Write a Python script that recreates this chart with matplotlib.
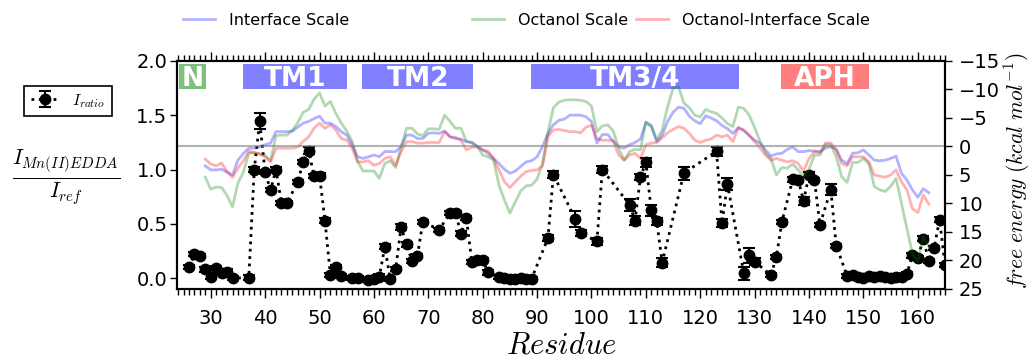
import matplotlib
matplotlib.use('Agg')
import matplotlib.pyplot as plt
from matplotlib.ticker import MultipleLocator, FormatStrFormatter

plt.rcParams['mathtext.fontset'] = 'cm'

# ---------------- data ----------------
residues_ratio = [26, 27, 28, 29, 30, 31, 32, 33, 34,
                  37, 38, 39, 40, 41, 42, 43, 44,
                  46, 47, 48, 49, 50, 51, 52, 53, 54,
                  56, 57,
                  59, 60, 61, 62, 63, 64, 65, 66, 67, 68, 69,
                  72,
                  74, 75, 76, 77, 78, 79, 80, 81,
                  83, 84, 85, 86, 87, 88, 89,
                  92, 93,
                  97, 98,
                  101, 102,
                  107, 108, 109, 110, 111, 112, 113,
                  117,
                  123, 124, 125,
                  128, 129, 130,
                  133, 134, 135,
                  137, 138, 139, 140, 141, 142,
                  144, 145,
                  147, 148, 149, 150, 151, 152, 153, 154, 155, 156, 157, 158,
                  159, 160, 161, 162, 163, 164, 165]
ratio = [0.10, 0.22, 0.205, 0.08, 0.015, 0.095, 0.045, 0.06, 0.0,
         0.005, 1.0, 1.445, 0.975, 0.81, 1.0, 0.69, 0.69,
         0.887, 1.072, 1.175, 0.94, 0.945, 0.53, 0.03, 0.105, 0.02,
         0.0, 0.0,
         -0.02, -0.01, 0.015, 0.29, -0.01, 0.085, 0.47, 0.31, 0.16, 0.205, 0.52,
         0.445,
         0.60, 0.60, 0.41, 0.553, 0.15, 0.17, 0.165, 0.052,
         0.01, 0.0, -0.005, -0.005, 0.0, -0.005, -0.005,
         0.37, 0.953,
         0.547, 0.415,
         0.338, 1.0,
         0.676, 0.53, 0.93, 1.067, 0.624, 0.522, 0.144,
         0.968,
         1.168, 0.507, 0.867,
         0.046, 0.21, 0.153,
         0.028, 0.197, 0.517,
         0.91, 0.908, 0.71, 0.953, 0.904, 0.491,
         0.815, 0.299,
         0.02, 0.03, 0.01, 0.0, 0.02, 0.015, 0.02, 0.015, 0.005, 0.01, 0.01, 0.04,
         0.21, 0.185, 0.365, 0.16, 0.28, 0.54, 0.12]
ratio_err = [0.02, 0.02, 0.02, 0.02, 0.02, 0.02, 0.02, 0.02, 0.02,
             0.02, 0.02, 0.075, 0.02, 0.02, 0.02, 0.02, 0.02,
             0.02, 0.02, 0.03, 0.02, 0.02, 0.02, 0.02, 0.02, 0.02,
             0.02, 0.02,
             0.02, 0.02, 0.02, 0.025, 0.02, 0.02, 0.025, 0.02, 0.02, 0.02, 0.02,
             0.02,
             0.02, 0.02, 0.02, 0.02, 0.02, 0.02, 0.02, 0.02,
             0.02, 0.02, 0.02, 0.02, 0.02, 0.02, 0.02,
             0.03, 0.03,
             0.075, 0.03,
             0.03, 0.03,
             0.055, 0.045, 0.03, 0.04, 0.05, 0.03, 0.04,
             0.06,
             0.04, 0.035, 0.055,
             0.06, 0.07, 0.03,
             0.02, 0.02, 0.02,
             0.02, 0.02, 0.04, 0.02, 0.02, 0.02,
             0.05, 0.02,
             0.02, 0.02, 0.02, 0.02, 0.02, 0.02, 0.02, 0.02, 0.02, 0.02, 0.02, 0.02,
             0.02, 0.02, 0.02, 0.02, 0.02, 0.02, 0.02]

residues_scale = list(range(29, 163))
interface_scale = [3.4, 4.1, 4.1, 4.0, 4.5, 5.0, 2.4, 1.2, 0.3, 0.3,
                   0.0, -0.3, -0.6, -2.6, -2.6, -2.6, -2.7, -3.4, -4.1, -4.4,
                   -4.9, -5.3, -4.1, -4.1, -3.5, -2.6, -2.0, -0.3, 1.8, 2.1,
                   1.8, 1.5, 1.8, 0.9, 0.9, 0.9, 0.0, -2.0, -2.0, -1.4,
                   -1.4, -2.3, -2.4, -2.3, -2.7, -1.7, -1.4, -1.3, -0.85, -0.7,
                   0.0, 0.6, 1.2, 2.1, 3.0, 4.0, 4.7, 4.3, 3.5, 2.7,
                   2.5, 1.8, 0.0, -2.3, -3.8, -4.6, -4.8, -5.5, -5.5, -5.5,
                   -5.2, -4.4, -0.6, -2.1, -2.1, -0.9, 0.0, 0.3, -0.3, -0.7,
                   -1.3, -4.2, -3.5, -0.85, -2.0, -4.4, -6.0, -6.9, -6.7, -5.3,
                   -4.5, -4.0, -5.4, -5.0, -4.5, -3.7, -3.1, -2.3, -3.3, -2.8,
                   -1.9, -1.1, -0.6, 0.6, 1.7, 1.3, 1.2, 0.5, 0.1, 0.9,
                   0.9, 0.7, 0.8, 0.9, 0.3, 0.0, 0.5, 2.4, 3.0, 1.2,
                   1.1, 0.6, 1.5, 2.4, 2.5, 2.4, 2.1, 1.7, 4.7, 5.9,
                   7.6, 8.9, 7.4, 8.1]
octanol_scale = [5.4, 7.5, 7.1, 7.2, 8.6, 10.6, 6.4, 4.5, 1.2, 1.0,
                 1.4, 1.6, 2.5, -1.9, -2.0, -2.0, -2.8, -4.2, -6.0, -6.5,
                 -8.3, -9.4, -7.1, -7.9, -5.8, -4.1, -2.7, -0.9, 2.6, 4.3,
                 4.3, 4.3, 5.6, 3.0, 2.5, 3.7, 0.1, -3.2, -3.2, -2.2,
                 -1.9, -3.1, -3.1, -3.0, -5.5, -4.4, -3.2, -3.2, -0.9, -0.7,
                 0.0, 1.5, 1.8, 2.4, 6.8, 9.4, 11.7, 9.7, 7.8, 6.9,
                 6.8, 5.7, 3.0, -2.5, -6.8, -7.8, -8.1, -8.2, -8.2, -8.1,
                 -7.9, -7.1, -2.6, -3.6, -3.8, -2.7, 0.3, 2.4, 0.9, 0.5,
                 0.6, -4.3, -3.7, -1.2, -2.9, -7.0, -10.2, -10.5, -7.6, -6.8,
                 -5.5, -5.2, -6.5, -6.1, -5.8, -5.0, -4.0, -3.5, -6.9, -6.7,
                 -5.5, -3.3, -0.9, 1.2, 2.1, 5.0, 3.7, 3.8, 3.1, 4.1,
                 5.2, 4.0, 1.5, 1.5, -0.3, -0.3, 1.8, 5.3, 6.3, 2.8,
                 2.8, 2.1, 3.0, 7.0, 7.6, 7.9, 7.0, 5.6, 10.0, 14.4,
                 18.8, 20.2, 15.8, 17.5]
octanol_interface_scale = [2.2, 3.1, 3.4, 2.9, 4.4, 5.4, 3.8, 2.5, 0.8, 1.2,
                           1.2, 1.8, 2.7, 0.3, 0.3, 0.3, 0.3, 0.1, -0.9, -1.7,
                           -3.2, -4.1, -3.2, -3.8, -2.9, -1.4, -1.1, 0.3, 2.7, 2.7,
                           2.5, 3.3, 3.0, 2.1, 1.8, 3.3, 0.9, -0.85, -0.85, -0.6,
                           -0.6, -0.7, -0.7, -0.7, -2.6, -1.7, -1.6, -1.1, 0.6, 0.15,
                           0.0, 0.6, 0.8, 2.1, 4.1, 6.2, 7.2, 6.2, 5.2, 4.4,
                           4.2, 4.1, 3.4, -1.7, -2.9, -3.0, -2.8, -2.6, -2.6, -2.4,
                           -3.4, -3.7, -1.4, -1.1, -1.1, -1.0, 1.5, 2.4, 1.5, 1.2,
                           2.1, -0.3, -0.6, -0.7, -1.5, -2.4, -3.0, -3.5, -3.2, -2.3,
                           -1.1, -0.7, -1.1, -1.3, -2.0, -1.7, -2.0, -0.85, -3.3, -2.9,
                           -2.0, -0.85, 0.3, 1.5, 2.4, 2.1, 2.4, 2.7, 2.5, 3.0,
                           4.3, 2.1, 0.9, 1.1, -0.6, -0.6, 0.6, 3.0, 3.4, 1.8,
                           1.8, 1.8, 2.7, 5.0, 5.2, 5.4, 5.0, 4.1, 6.2, 7.6,
                           10.9, 11.6, 8.5, 10.1]

region_names = ['N', 'TM1', 'TM2', 'TM3/4', 'APH']
region_start = [24.2, 35.9, 57.9, 88.9, 134.8]
region_end = [29.1, 55.1, 78.2, 127.1, 151.1]
region_colors = ['g', 'b', 'b', 'b', 'r']

x_ticks = [30, 40, 50, 60, 70, 80, 90, 100, 110, 120, 130, 140, 150, 160]
ratio_ticks = [0.0, 0.5, 1.0, 1.5, 2.0]
energy_ticks = [-15, -10, -5, 0, 5, 10, 15, 20, 25]

# ---------------- figure ----------------
fig = plt.figure(figsize=(10.31, 3.59), dpi=100)
ax = fig.add_axes([0.1717, 0.195, 0.7449, 0.6351])
ax2 = ax.twinx()

eb = ax.errorbar(residues_ratio, ratio, yerr=ratio_err, fmt='ko:', ms=7.5,
                 lw=2, capsize=4.5, elinewidth=1.5, capthick=1.5,
                 label='$I_{ratio}$')

scale_lines = []
for vals, col, lab in [(interface_scale, 'b', 'Interface Scale'),
                       (octanol_scale, 'g', 'Octanol Scale'),
                       (octanol_interface_scale, 'r', 'Octanol-Interface Scale')]:
    ln, = ax2.plot(residues_scale, vals, color=col, alpha=0.3, lw=2, label=lab)
    scale_lines.append(ln)
ax2.axhline(0, color='gray', alpha=0.6, lw=1.5)

for name, s, e, c in zip(region_names, region_start, region_end, region_colors):
    ax2.axvspan(s, e, ymin=0.876, ymax=0.987, color=c, alpha=0.5, lw=0)
    ax2.text((s + e) / 2, 0.89, name, transform=ax2.get_xaxis_transform(),
             ha='center', va='baseline', color='white', fontweight='bold',
             fontsize=19)

ax.set_xlim(23.8, 165)
ax.set_ylim(-0.1, 2.0)
ax2.set_ylim(25, -15)

ax.set_xticks(x_ticks)
ax.xaxis.set_minor_locator(MultipleLocator(1))
ax.xaxis.set_ticks_position('both')
ax.set_yticks(ratio_ticks)
ax.yaxis.set_major_formatter(FormatStrFormatter('%.1f'))
ax2.set_yticks(energy_ticks)

ax.tick_params(axis='x', which='major', direction='out', length=6.5, width=1,
               labelsize=14, pad=8)
ax.tick_params(axis='x', which='minor', direction='out', length=4, width=1)
ax.tick_params(axis='y', which='major', direction='out', length=5, width=1,
               labelsize=14, pad=2)
ax2.tick_params(axis='y', which='major', direction='out', length=5, width=1,
                labelsize=14, pad=5)

for a in (ax, ax2):
    for sp in a.spines.values():
        sp.set_linewidth(1.5)

ax.set_xlabel('$Residue$', fontsize=22, labelpad=2)
ax.set_ylabel(r'$\frac{I_{Mn(II)EDDA}}{I_{ref}}$', rotation=0, fontsize=22,
              va='center', ha='center')
ax.yaxis.set_label_coords(-0.145, 0.49)
ax2.set_ylabel(r'$free\ energy\ (kcal\ mol^{-1})$', fontsize=15.5,
               rotation=90, va='center', ha='center')
ax2.yaxis.set_label_coords(1.0944, 0.52)

leg1 = ax.legend(handles=[eb], loc='center', bbox_to_anchor=(0.066, 0.719),
                 bbox_transform=fig.transFigure, fancybox=False,
                 edgecolor='black', framealpha=1, fontsize=11.5,
                 handlelength=1.8)
leg1.get_frame().set_linewidth(1.2)

legend_x = [0.1775, 0.4578, 0.6169]
for ln, lx in zip(scale_lines, legend_x):
    lg = fig.legend(handles=[ln], loc='center left', bbox_to_anchor=(lx, 0.944),
                    frameon=False, fontsize=11.5, handlelength=2.0,
                    handletextpad=0.87, borderpad=0, borderaxespad=0)

fig.savefig('out.png', dpi=100)
